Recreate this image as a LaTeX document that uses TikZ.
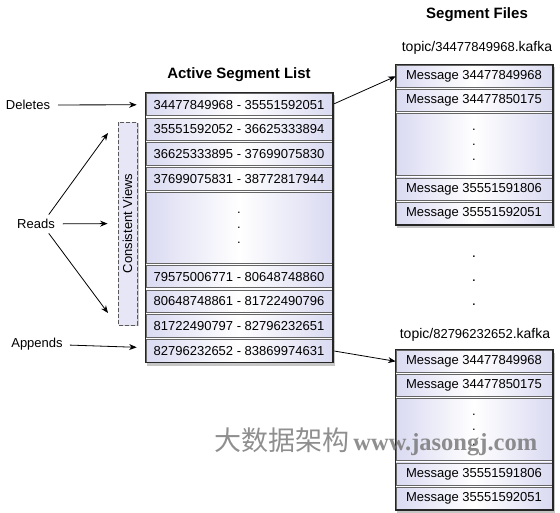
\documentclass[tikz,border=0pt]{standalone}
\usepackage{fontspec}
\setmainfont{Liberation Sans}
\newfontfamily\cjk{Noto Sans CJK SC}
\newfontfamily\wmfont{Liberation Serif}
\usetikzlibrary{positioning}
\usetikzlibrary{arrows.meta}
\usetikzlibrary{shadows}
\usetikzlibrary{backgrounds,fit}

\definecolor{cellc}{RGB}{218,218,242}
\definecolor{viewc}{RGB}{230,230,246}

\begin{document}
\begin{tikzpicture}[
    x=1pt,y=-1pt,
    font={\fontsize{13pt}{15}\selectfont},
% Cell style
    cell/.style={rectangle,draw=black!60,line width=0.7pt,left color=cellc,right color=cellc,
		middle color=white,minimum width=186pt,minimum height=22.5pt,inner sep=0pt,anchor=north},
    msg/.style={cell,minimum width=156pt,minimum height=22pt},
    dots/.style={align=center,font={\fontsize{13pt}{15}\selectfont}},
    lbl/.style={inner sep=2pt},
    title/.style={font={\fontsize{15pt}{18}\selectfont\bfseries}},
    arr/.style={-{Stealth[length=7.5pt,width=6pt]},line width=0.8pt}
    ]

  \tikzstyle{shade} = [fill=white,inner sep=0.5pt,drop shadow={shadow xshift=2pt,shadow yshift=-3pt,opacity=0.45}]
  \tikzstyle{frame} = [draw=black!85,line width=1.3pt,inner sep=0.5pt]
  \tikzstyle{views} = [rotate=90,draw=black!65,thick,dash pattern=on 4pt off 2pt,fill=viewc,
		minimum width=203pt,minimum height=19pt,inner sep=0pt,
		drop shadow={shadow xshift=1.5pt,shadow yshift=-1.5pt,opacity=0.4}]

  \useasboundingbox (0,0) rectangle (560,513);

  % active segment list
  \node (t1) [title] at (239,75) {Active Segment List};
  \node (a1) [cell] at (239,93) {34477849968 - 35551592051};
  \node (a2) [cell,below=1.5pt of a1] {35551592052 - 36625333894};
  \node (a3) [cell,below=1.5pt of a2] {36625333895 - 37699075830};
  \node (a4) [cell,below=1.5pt of a3] {37699075831 - 38772817944};
  \node (ad) [cell,dots,minimum height=71pt,below=1.5pt of a4] {.\\.\\.};
  \node (a5) [cell,below=1.5pt of ad] {79575006771 - 80648748860};
  \node (a6) [cell,below=1.5pt of a5] {80648748861 - 81722490796};
  \node (a7) [cell,below=1.5pt of a6] {81722490797 - 82796232651};
  \node (a8) [cell,below=1.5pt of a7] {82796232652 - 83869974631};
  \node (list) [frame,fit=(a1) (a8)] {};

  % segment files
  \node (t2) [title] at (477,15) {Segment Files};
  \node (f1) [font={\fontsize{14pt}{16}\selectfont}] at (477,48) {topic/{\fontsize{13pt}{15}\selectfont 34477849968}.kafka};
  \node (m1) [msg] at (474,65) {Message 34477849968};
  \node (m2) [msg,below=1.5pt of m1] {Message 34477850175};
  \node (md) [msg,dots,minimum height=62pt,below=1.5pt of m2] {.\\.\\.};
  \node (m3) [msg,below=1.5pt of md] {Message 35551591806};
  \node (m4) [msg,below=1.5pt of m3] {Message 35551592051};
  \node (file1) [frame,fit=(m1) (m4)] {};

  \node (gap) [align=center,font={\fontsize{15pt}{24}\selectfont}] at (474,281) {.\\.\\.};

  \node (f2) [font={\fontsize{14pt}{16}\selectfont}] at (475,335) {topic/{\fontsize{13pt}{15}\selectfont 82796232652}.kafka};
  \node (n1) [msg] at (474,350) {Message 34477849968};
  \node (n2) [msg,below=1.5pt of n1] {Message 34477850175};
  \node (nd) [msg,dots,minimum height=62pt,below=1.5pt of n2] {.\\.\\.};
  \node (n3) [msg,below=1.5pt of nd] {Message 35551591806};
  \node (n4) [msg,below=1.5pt of n3] {Message 35551592051};
  \node (file2) [frame,fit=(n1) (n4)] {};

  % readers and writers
  \node (views) [views] at (127.5,223.5) {Consistent Views};
  \node (del) [lbl] at (28,105) {Deletes};
  \node (reads) [lbl] at (36,224) {Reads};
  \node (app) [lbl] at (37,344) {Appends};
  \coordinate (vtop) at (108,133);
  \coordinate (vbot) at (108,313);

  \draw[arr,shorten <=6pt,shorten >=9pt] (del) -- (a1);
  \draw[arr,shorten <=6pt,shorten >=10pt] (reads) -- (views);
  \draw[arr,shorten <=3pt] ([xshift=-10pt]reads.north east) -- (vtop);
  \draw[arr,shorten <=3pt] ([xshift=-10pt]reads.south east) -- (vbot);
  \draw[arr,shorten <=5pt,shorten >=9pt] (app) -- (a8);
  \draw[arr,shorten <=2pt] (a1.east) -- (m1.west);
  \draw[arr,shorten <=2pt] (a8.east) -- (n1.west);

  % watermark
  \node (wm) [text=black!55,opacity=0.8] at (376,442) {{\cjk\fontsize{27pt}{30}\selectfont 大数据架构} {\wmfont\bfseries\fontsize{24.5pt}{30}\selectfont www.jasongj.com}};

\begin{pgfonlayer}{background}
  \node[shade] (lists) [fit = (a1) (a8)] {};
  \node[shade] (file1s) [fit = (m1) (m4)] {};
  \node[shade] (file2s) [fit = (n1) (n4)] {};
\end{pgfonlayer}

\end{tikzpicture}
\end{document}
